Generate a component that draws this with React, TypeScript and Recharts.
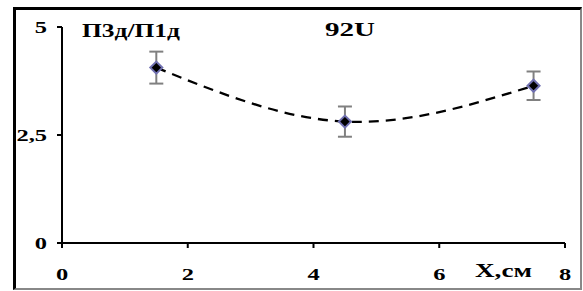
import { LineChart, Line, XAxis, YAxis, ErrorBar } from "recharts";

// measured points (X, cm) and ratio П3д/П1д with error
const xCm = [1.5, 4.5, 7.5];
const ratio = [4.06, 2.81, 3.64];
const ratioErr = [0.37, 0.35, 0.33];
const xTicks = [0, 2, 4, 6, 8];
const yTicks = [0, 2.5, 5];

const data = xCm.map((x, i) => ({ x, y: ratio[i], err: ratioErr[i] }));

const FONT = '"Liberation Serif", "Times New Roman", serif';
const STRETCH = 1.4;

function Diamond(props: any) {
  const { cx, cy } = props;
  if (cx == null || cy == null) return null;
  const r = 6;
  return (
    <polygon
      points={`${cx},${cy - r} ${cx + r},${cy} ${cx},${cy + r} ${cx - r},${cy}`}
      fill="#000"
      stroke="#7070B0"
      strokeWidth={2}
    />
  );
}

function XTick(props: any) {
  const { x, payload } = props;
  return (
    <g transform={`translate(${x},280) scale(${STRETCH},1)`}>
      <text x={0} y={0} textAnchor="middle" fontFamily={FONT} fontWeight="bold" fontSize={17.5} fill="#000">
        {payload.value}
      </text>
    </g>
  );
}

function YTick(props: any) {
  const { y, payload } = props;
  return (
    <g transform={`translate(47,${y}) scale(${STRETCH},1)`}>
      <text x={0} y={0} dy="0.34em" textAnchor="end" fontFamily={FONT} fontWeight="bold" fontSize={17.5} fill="#000">
        {String(payload.value).replace(".", ",")}
      </text>
    </g>
  );
}

export default function App() {
  return (
    <div style={{ position: "fixed", left: 0, top: 0, width: 583, height: 291, background: "#fff" }}>
      <div
        style={{
          position: "absolute",
          left: 13,
          top: 7,
          width: 569,
          height: 283,
          boxSizing: "border-box",
          borderLeft: "3px solid #000",
          borderTop: "3px solid #000",
          borderRight: "2px solid #888",
          borderBottom: "2px solid #888",
        }}
      />
      <div style={{ position: "absolute", left: 0, top: 0 }}>
        <LineChart width={583} height={291} data={data} margin={{ top: 27, right: 18, bottom: 0, left: 0 }}>
          <XAxis
            dataKey="x"
            type="number"
            domain={[0, 8]}
            ticks={xTicks}
            height={48}
            axisLine={{ stroke: "#000", strokeWidth: 2 }}
            tickLine={{ stroke: "#000", strokeWidth: 2 }}
            tickSize={5}
            tick={<XTick />}
            interval={0}
          />
          <YAxis
            type="number"
            domain={[0, 5]}
            ticks={yTicks}
            width={62}
            axisLine={{ stroke: "#000", strokeWidth: 2 }}
            tickLine={{ stroke: "#000", strokeWidth: 2 }}
            tickSize={5}
            tick={<YTick />}
            interval={0}
          />
          <Line
            dataKey="y"
            type="natural"
            stroke="#000"
            strokeWidth={2.3}
            strokeDasharray="10 7"
            dot={<Diamond />}
            activeDot={false}
            isAnimationActive={false}
          >
            <ErrorBar dataKey="err" direction="y" width={7} stroke="#808080" strokeWidth={2} />
          </Line>
        </LineChart>
      </div>
      <svg width={583} height={291} style={{ position: "absolute", left: 0, top: 0, pointerEvents: "none" }}>
        <text x={82} y={37} fontFamily={FONT} fontWeight="bold" fontSize={19.5} textLength={98} lengthAdjust="spacingAndGlyphs">
          П3д/П1д
        </text>
        <text x={325} y={36} fontFamily={FONT} fontWeight="bold" fontSize={19.5} textLength={50} lengthAdjust="spacingAndGlyphs">
          92U
        </text>
        <text x={475} y={277} fontFamily={FONT} fontWeight="bold" fontSize={19} textLength={57} lengthAdjust="spacingAndGlyphs">
          X,см
        </text>
      </svg>
    </div>
  );
}
